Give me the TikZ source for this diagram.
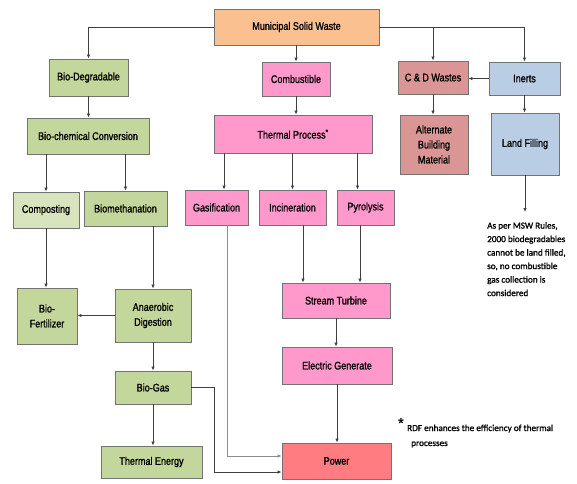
\documentclass[tikz,border=0pt]{standalone}
\usepackage{fontspec}
\setmainfont{Liberation Sans}[FakeStretch=0.82,FakeBold=1.2]
\newfontfamily\notefont{Carlito}[FakeBold=1.2]
\newfontfamily\starfont{Liberation Sans}[FakeBold=1.5]
\usetikzlibrary{arrows.meta,calc}
\definecolor{cmsw}{HTML}{FAC090}
\definecolor{cgreen}{HTML}{C3D69B}
\definecolor{cgreenl}{HTML}{D7E4BD}
\definecolor{cpink}{HTML}{FF99CC}
\definecolor{ccd}{HTML}{D99694}
\definecolor{cinert}{HTML}{B9CDE5}
\definecolor{cpower}{HTML}{FF7C80}
\definecolor{cline}{HTML}{404040}
\begin{document}
\begin{tikzpicture}[x=1pt,y=-1pt,
 box/.style={draw=black!55, line width=0.9pt, inner sep=1pt, align=center, font=\fontsize{11}{15}\selectfont},
 arr/.style={draw=cline, line width=0.8pt, -{Latex[length=4pt,width=3.5pt]}},
 notes/.style={inner sep=0pt, font=\notefont\fontsize{9.2}{13.5}\selectfont}]
\fill[white] (0,0) rectangle (577,483);
\useasboundingbox (0,0) rectangle (577,483);
% nodes
\node[box,fill=cmsw,minimum width=165pt,minimum height=36pt] (msw) at (296.5,27) {Municipal Solid Waste};
\node[box,fill=cgreen,minimum width=79pt,minimum height=37pt] (bio) at (88.5,77.5) {Bio-Degradable};
\node[box,fill=cgreen,minimum width=122pt,minimum height=36pt] (bcc) at (88,136) {Bio-chemical Conversion};
\node[box,fill=cpink,minimum width=68pt,minimum height=34pt] (comb) at (296,79) {Combustible};
\node[box,fill=cpink,minimum width=158pt,minimum height=38pt] (tp) at (293,134) {Thermal Process\textsuperscript{*}};
\node[box,fill=ccd,minimum width=70pt,minimum height=33pt] (cd) at (433,77.5) {C \& D Wastes};
\node[box,fill=cinert,minimum width=71pt,minimum height=33pt] (inerts) at (524.5,78.5) {Inerts};
\node[box,fill=ccd,minimum width=68pt,minimum height=59pt] (abm) at (434,144.5) {Alternate\\Building\\Material};
\node[box,fill=cinert,minimum width=68pt,minimum height=62pt] (lf) at (525,144) {Land Filling};
\node[box,fill=cgreenl,minimum width=66pt,minimum height=36pt] (comp) at (46,210) {Composting};
\node[box,fill=cgreen,minimum width=83pt,minimum height=35pt] (biom) at (125.5,208.5) {Biomethanation};
\node[box,fill=cpink,minimum width=63pt,minimum height=35pt] (gas) at (216.5,207.5) {Gasification};
\node[box,fill=cpink,minimum width=67pt,minimum height=35pt] (inc) at (292.5,207.5) {Incineration};
\node[box,fill=cpink,minimum width=57pt,minimum height=35pt] (pyr) at (365.5,207.5) {Pyrolysis};
\node[box,fill=cpink,minimum width=108pt,minimum height=35pt] (st) at (336,300.5) {Stream Turbine};
\node[box,fill=cpink,minimum width=110pt,minimum height=37pt] (eg) at (337,365.5) {Electric Generate};
\node[box,fill=cpower,minimum width=109pt,minimum height=36pt] (power) at (336.5,461) {Power};
\node[box,fill=cgreen,minimum width=60pt,minimum height=56pt] (bf) at (47,316) {Bio-\\Fertilizer};
\node[box,fill=cgreen,minimum width=76pt,minimum height=53pt] (ad) at (153,315.5) {Anaerobic\\Digestion};
\node[box,fill=cgreen,minimum width=76pt,minimum height=33pt] (bg) at (153,387.5) {Bio-Gas};
\node[box,fill=cgreen,minimum width=101pt,minimum height=32pt] (te) at (151.5,462) {Thermal Energy};
% notes
\node[notes,anchor=north west,align=left] (note) at (487,222) {As per MSW Rules,\\2000 biodegradables\\cannot be land filled,\\so, no combustible\\gas collection is\\considered};
\node[inner sep=0pt,anchor=north west,font=\starfont\fontsize{14}{14}\selectfont] (star) at (398,418) {*};
\node[notes,anchor=base west] (rdf1) at (407,431) {RDF enhances the efficiency of thermal};
\node[notes,anchor=base west] (rdf2) at (411,446) {processes};
% connectors
\draw[arr] (msw.west) -| (bio.north);
\draw[arr] (msw.south -| comb.north) -- (comb.north);
\draw[arr] (msw.east) -| (inerts.north);
\draw[arr] (msw.east -| cd.north) -- (cd.north);
\draw[arr] (inerts.west) -- (inerts.west -| cd.east);
\draw[arr] (bio.south) -- (bio.south |- bcc.north);
\draw[arr] (comb.south) -- (comb.south |- tp.north);
\draw[arr] (cd.south) -- (cd.south |- abm.north);
\draw[arr] (inerts.south) -- (inerts.south |- lf.north);
\coordinate (lfend) at (525,212);
\draw[arr] (lf.south) -- (lfend);
\draw[arr] (bcc.south -| comp.north) -- (comp.north);
\draw[arr] (bcc.south -| biom.north) -- (biom.north);
\coordinate (gtop) at ($(gas.north)+(7.5,0)$);
\draw[arr] (tp.south -| gtop) -- (gtop);
\draw[arr] (tp.south -| inc.north) -- (inc.north);
\coordinate (ptop) at ($(pyr.north)+(-8,0)$);
\draw[arr] (tp.south -| ptop) -- (ptop);
\coordinate (ibot) at ($(inc.south)+(10.5,0)$);
\draw[arr] (ibot) -- (ibot |- st.north);
\coordinate (pbot) at ($(pyr.south)+(-5.5,0)$);
\draw[arr] (pbot) -- (pbot |- st.north);
\draw[arr] (st.south) -- (st.south |- eg.north);
\draw[arr] (eg.south) -- (eg.south |- power.north);
\coordinate (gbot) at ($(gas.south)+(10.5,0)$);
\draw[arr,draw=black!45] (gbot) |- ($(power.west)+(0,-5)$);
\draw[arr] (bg.east) -- ++(23,0) |- ($(power.west)+(0,11)$);
\draw[arr] (comp.south) -- (comp.south |- bf.north);
\draw[arr] (biom.south -| ad.north) -- (ad.north);
\draw[arr] (ad.west) -- (ad.west -| bf.east);
\draw[arr] (ad.south) -- (ad.south |- bg.north);
\draw[arr] (bg.south) -- (bg.south |- te.north);
\end{tikzpicture}
\end{document}
